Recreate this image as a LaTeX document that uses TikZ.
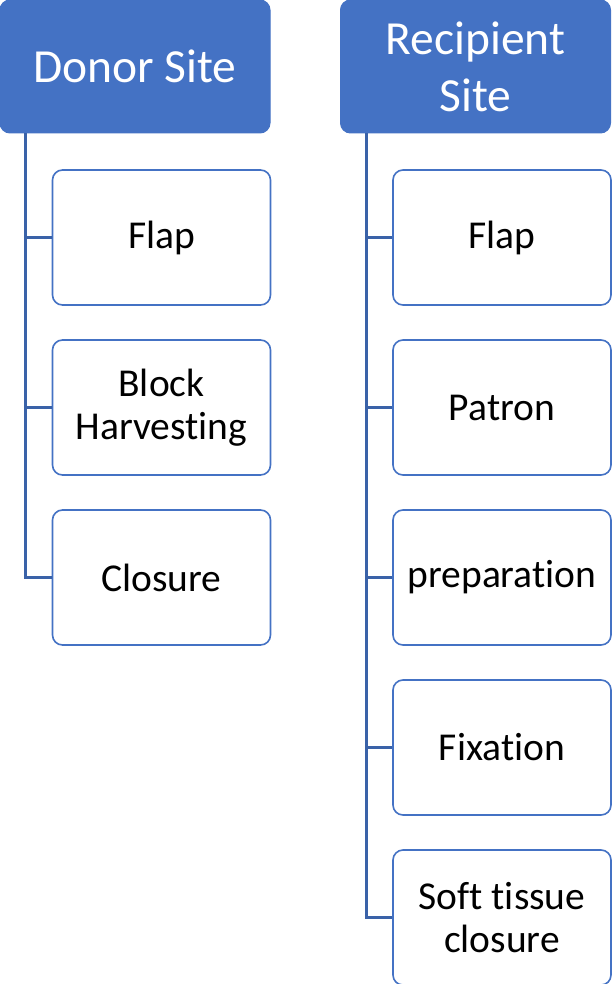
\documentclass[tikz,border=0pt]{standalone}
\usepackage{fontspec}
\setmainfont{Carlito}[Ligatures={NoCommon}]
\usetikzlibrary{calc}
\definecolor{accent}{HTML}{4472C4}
\definecolor{linkblue}{HTML}{3A62A8}
\begin{document}
\begin{tikzpicture}[x=1pt, y=-1pt]
            \tikzstyle{site} = [draw=accent, fill=accent, rounded corners=10pt, line width=1pt, text=white, align=center, inner sep=0pt, minimum width=270pt, minimum height=133pt, font=\fontsize{47.5}{57}\selectfont]
            \tikzstyle{step box} = [draw=accent, fill=white, rounded corners=10pt, line width=1.6pt, align=center, inner sep=0pt, minimum width=218pt, minimum height=135pt, font=\fontsize{39.5}{43}\selectfont]
            \tikzstyle{link} = [draw=linkblue, line width=2.2pt]
            \useasboundingbox (0, 0) rectangle (613, 984);
            % donor side
            \node[site] (donor) at (135, 66.5) {Donor Site};
            \node[step box] (dflap) at (161.5, 237.5) {Flap};
            \node[step box] (dblock) at (161.5, 407.5) {Block\\Harvesting};
            \node[step box] (dclose) at (161.5, 577.5) {Closure};
            \coordinate (dtrunk) at ($(donor.south west)+(26, 0)$);
            \foreach \child in {dflap, dblock, dclose}
                \draw[link] (dtrunk) |- (\child.west);
            % recipient side
            \node[site] (recip) at (475.5, 66.5) {Recipient\\Site};
            \node[step box] (rflap) at (502, 237.5) {Flap};
            \node[step box] (rpatron) at (502, 407.5) {Patron};
            \node[step box] (rprep) at (502, 577.5) {preparation};
            \node[step box] (rfix) at (502, 747.5) {Fixation};
            \node[step box] (rclose) at (502, 917.5) {Soft tissue\\closure};
            \coordinate (rtrunk) at ($(recip.south west)+(26.5, 0)$);
            \foreach \child in {rflap, rpatron, rprep, rfix, rclose}
                \draw[link] (rtrunk) |- (\child.west);
\end{tikzpicture}
\end{document}
